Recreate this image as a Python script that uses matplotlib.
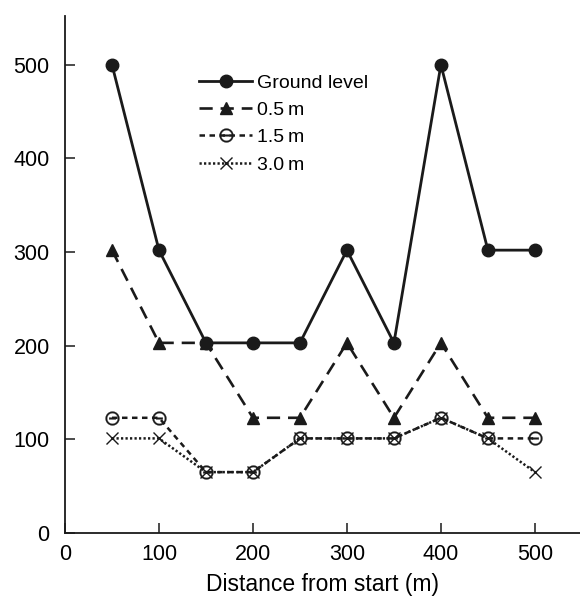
import matplotlib
matplotlib.use("Agg")
import matplotlib.pyplot as plt

plt.rcParams['font.family'] = ['Liberation Sans', 'DejaVu Sans']

distance = [50, 100, 150, 200, 250, 300, 350, 400, 450, 500]
ground = [500, 302, 203, 203, 203, 302, 203, 500, 302, 302]
h05 = [302, 203, 203, 123, 123, 203, 123, 203, 123, 123]
h15 = [123, 123, 65, 65, 101, 101, 101, 123, 101, 101]
h30 = [101, 101, 65, 65, 101, 101, 101, 123, 101, 65]
labels = ["Ground level", "0.5\u2009m", "1.5\u2009m", "3.0\u2009m"]

fig = plt.figure(figsize=(5.8, 5.96), dpi=100)
ax = fig.add_axes([65 / 580, 63 / 596, 515 / 580, 517 / 596])

c = '#1a1a1a'
ax.plot(distance, ground, color=c, lw=2.0, marker='o', ms=9, label=labels[0])
ax.plot(distance, h05, color=c, lw=1.9, ls=(0, (5, 3)), marker='^', ms=8.5,
        label=labels[1])
ax.plot(distance, h15, color=c, lw=1.8, ls=(0, (2.2, 1.8)), marker='$\u229d$', ms=10,
        mew=0.2, label=labels[2])
ax.plot(distance, h30, color=c, lw=1.8, ls=(0, (0.9, 0.9)), marker='x', ms=8,
        mew=1.0, label=labels[3])

ax.set_xlim(0, 548)
ax.set_ylim(0, 552)
ax.set_xticks([0, 100, 200, 300, 400, 500])
ax.set_yticks([0, 100, 200, 300, 400, 500])
ax.spines['top'].set_visible(False)
ax.spines['right'].set_visible(False)
ax.spines['left'].set_linewidth(1.3)
ax.spines['bottom'].set_linewidth(1.3)
ax.spines['left'].set_color(c)
ax.spines['bottom'].set_color(c)
ax.tick_params(axis='both', direction='in', length=7, width=1.1, labelsize=15.5, color=c)
ax.tick_params(axis='x', pad=8)
ax.tick_params(axis='y', pad=11)
ax.set_xlabel("Distance from start (m)", fontsize=16.5, labelpad=6)

ax.legend(loc='upper left', bbox_to_anchor=(0.261, 0.888), frameon=False, fontsize=14,
          handlelength=2.7, handletextpad=0.25, labelspacing=0.5, borderpad=0,
          borderaxespad=0)

fig.savefig("out.png", dpi=100)
